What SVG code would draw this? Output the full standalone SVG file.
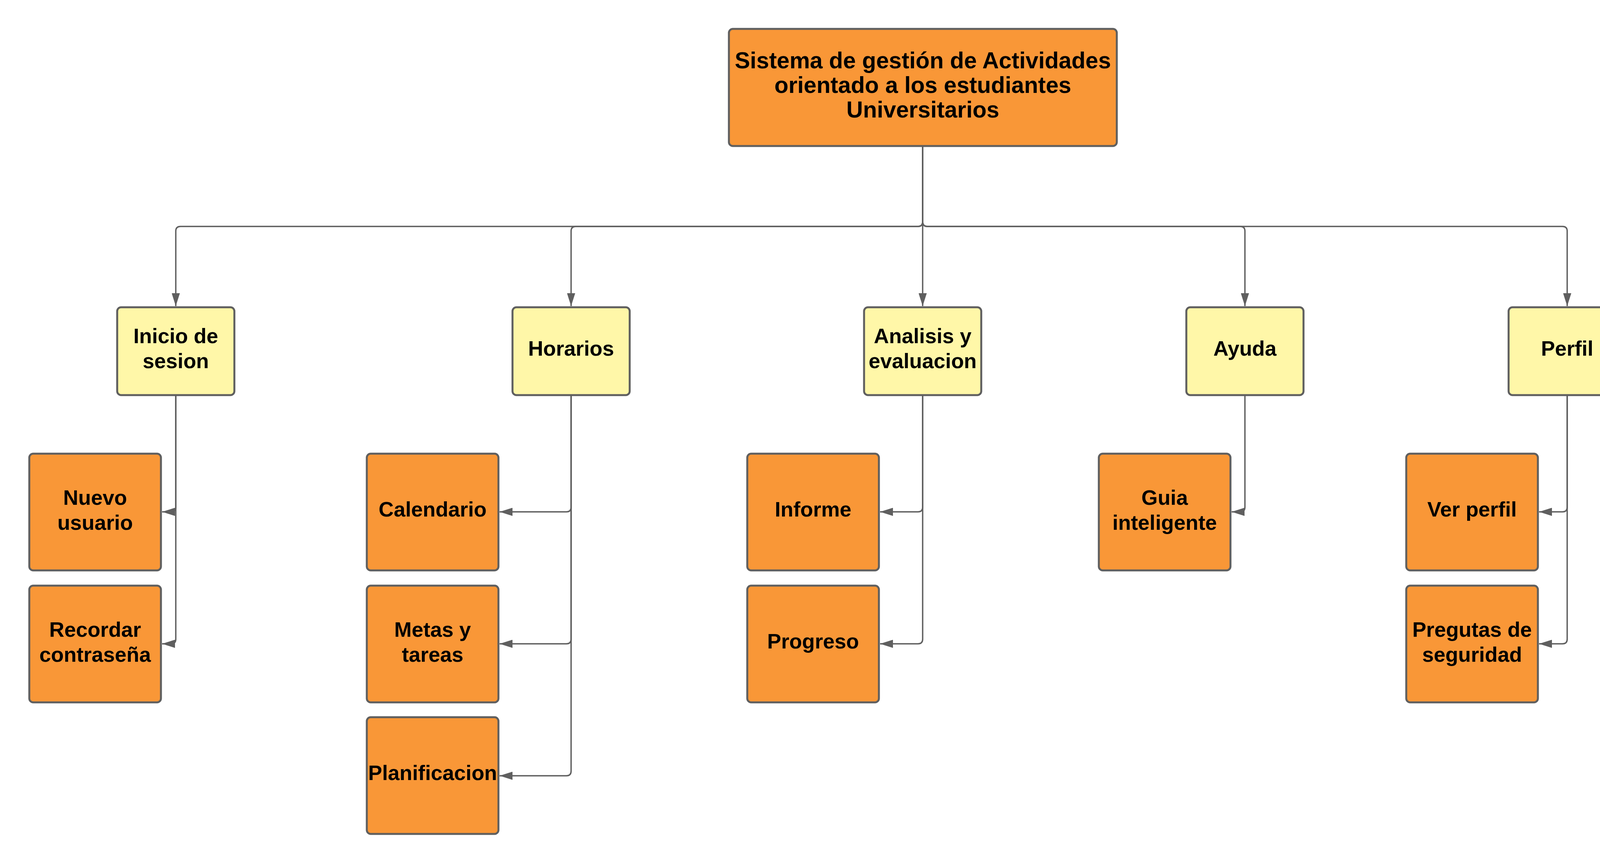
<svg xmlns="http://www.w3.org/2000/svg" width="4238" height="2213" viewBox="0 0 4238 2213">
<style>
.bg{fill:#ffffff}
.orange{fill:#F99737;stroke:#5F5F5F;stroke-width:5}
.yellow{fill:#FFF7A8;stroke:#5F5F5F;stroke-width:5}
.conn{fill:none;stroke:#5F5F5F;stroke-width:3.5;marker-end:url(#arrow)}
.t{font-family:"Liberation Sans",Arial,sans-serif;font-weight:bold;font-size:53.5px;fill:#000000;text-anchor:middle}
.tm{font-size:58.7px}
</style>
<defs>
<marker id="arrow" markerUnits="userSpaceOnUse" viewBox="0 0 33 21" markerWidth="33" markerHeight="21" refX="33" refY="10.5" orient="auto">
<path d="M0 0 L33 10.5 L0 21 Z" fill="#5F5F5F"/>
</marker>
</defs>
<rect class="bg" x="0" y="0" width="4238" height="2213"/>

<g id="connectors">
<path class="conn" d="M2362 374 V568 Q2362 580 2350 580 H462 Q450 580 450 592 V784"/>
<path class="conn" d="M2362 374 V568 Q2362 580 2350 580 H1474 Q1462 580 1462 592 V784"/>
<path class="conn" d="M2362 374 V784"/>
<path class="conn" d="M2362 374 V568 Q2362 580 2374 580 H3175 Q3187 580 3187 592 V784"/>
<path class="conn" d="M2362 374 V568 Q2362 580 2374 580 H4000 Q4012 580 4012 592 V784"/>
<path class="conn" d="M450 1012 V1299 Q450 1311 438 1311 H415"/>
<path class="conn" d="M450 1012 V1637 Q450 1649 438 1649 H415"/>
<path class="conn" d="M1462 1012 V1299 Q1462 1311 1450 1311 H1279"/>
<path class="conn" d="M1462 1012 V1637 Q1462 1649 1450 1649 H1279"/>
<path class="conn" d="M1462 1012 V1975 Q1462 1987 1450 1987 H1279"/>
<path class="conn" d="M2362 1012 V1299 Q2362 1311 2350 1311 H2253"/>
<path class="conn" d="M2362 1012 V1637 Q2362 1649 2350 1649 H2253"/>
<path class="conn" d="M3187 1012 V1299 Q3187 1311 3175 1311 H3153"/>
<path class="conn" d="M4012 1012 V1299 Q4012 1311 4000 1311 H3940"/>
<path class="conn" d="M4012 1012 V1637 Q4012 1649 4000 1649 H3940"/>
</g>

<g id="node-main">
<rect class="orange" x="1866" y="74" width="993" height="300" rx="10"/>
<text class="t tm" x="2362.5" y="175">Sistema de gestión de Actividades</text>
<text class="t tm" x="2362.5" y="238">orientado a los estudiantes</text>
<text class="t tm" x="2362.5" y="301">Universitarios</text>
</g>

<g id="node-inicio">
<rect class="yellow" x="300" y="787" width="300" height="225" rx="10"/>
<text class="t" x="450" y="879">Inicio de</text>
<text class="t" x="450" y="943">sesion</text>
</g>
<g id="node-horarios">
<rect class="yellow" x="1312" y="787" width="300" height="225" rx="10"/>
<text class="t" x="1462" y="911">Horarios</text>
</g>
<g id="node-analisis">
<rect class="yellow" x="2212" y="787" width="300" height="225" rx="10"/>
<text class="t" x="2362" y="879">Analisis y</text>
<text class="t" x="2362" y="943">evaluacion</text>
</g>
<g id="node-ayuda">
<rect class="yellow" x="3037" y="787" width="300" height="225" rx="10"/>
<text class="t" x="3187" y="911">Ayuda</text>
</g>
<g id="node-perfil">
<rect class="yellow" x="3862" y="787" width="300" height="225" rx="10"/>
<text class="t" x="4012" y="911">Perfil</text>
</g>

<g id="node-nuevo-usuario">
<rect class="orange" x="75" y="1162" width="337" height="299" rx="10"/>
<text class="t" x="243.5" y="1293">Nuevo</text>
<text class="t" x="243.5" y="1357">usuario</text>
</g>
<g id="node-recordar">
<rect class="orange" x="75" y="1500" width="337" height="299" rx="10"/>
<text class="t" x="243.5" y="1631">Recordar</text>
<text class="t" x="243.5" y="1695">contraseña</text>
</g>
<g id="node-calendario">
<rect class="orange" x="939" y="1162" width="337" height="299" rx="10"/>
<text class="t" x="1107.5" y="1323">Calendario</text>
</g>
<g id="node-metas">
<rect class="orange" x="939" y="1500" width="337" height="299" rx="10"/>
<text class="t" x="1107.5" y="1631">Metas y</text>
<text class="t" x="1107.5" y="1695">tareas</text>
</g>
<g id="node-planificacion">
<rect class="orange" x="939" y="1837" width="337" height="299" rx="10"/>
<text class="t" x="1107.5" y="1998">Planificacion</text>
</g>
<g id="node-informe">
<rect class="orange" x="1913" y="1162" width="337" height="299" rx="10"/>
<text class="t" x="2081.5" y="1323">Informe</text>
</g>
<g id="node-progreso">
<rect class="orange" x="1913" y="1500" width="337" height="299" rx="10"/>
<text class="t" x="2081.5" y="1661">Progreso</text>
</g>
<g id="node-guia">
<rect class="orange" x="2813" y="1162" width="337" height="299" rx="10"/>
<text class="t" x="2981.5" y="1293">Guia</text>
<text class="t" x="2981.5" y="1357">inteligente</text>
</g>
<g id="node-ver-perfil">
<rect class="orange" x="3600" y="1162" width="337" height="299" rx="10"/>
<text class="t" x="3768.5" y="1323">Ver perfil</text>
</g>
<g id="node-pregutas">
<rect class="orange" x="3600" y="1500" width="337" height="299" rx="10"/>
<text class="t" x="3768.5" y="1631">Pregutas de</text>
<text class="t" x="3768.5" y="1695">seguridad</text>
</g>
</svg>
